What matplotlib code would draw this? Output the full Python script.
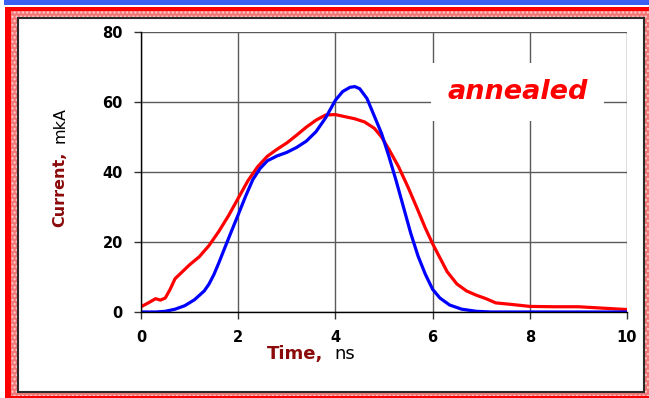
import numpy as np
import matplotlib
matplotlib.use('Agg')
import matplotlib.pyplot as plt
from matplotlib.patches import Rectangle

# Current pulses, time in ns, current in mkA
t_red = [0.0, 0.15, 0.3, 0.4, 0.5, 0.6, 0.7, 0.85, 1.0, 1.2, 1.4, 1.6, 1.8, 2.0,
         2.2, 2.4, 2.6, 2.8, 3.0, 3.2, 3.4, 3.6, 3.8, 4.0, 4.2, 4.4, 4.6, 4.8,
         4.95, 5.1, 5.3, 5.5, 5.7, 5.85, 6.0, 6.15, 6.3, 6.5, 6.7, 6.9, 7.1,
         7.3, 7.6, 8.0, 8.5, 9.0, 9.5, 10.0]
i_red = [1.5, 2.6, 3.8, 3.4, 4.0, 6.5, 9.5, 11.5, 13.5, 15.8, 19.0, 23.0, 27.5, 32.5,
         37.5, 41.5, 44.5, 46.5, 48.3, 50.5, 52.8, 54.8, 56.3, 56.4, 55.8, 55.2, 54.3, 52.5,
         50.0, 46.5, 41.5, 35.5, 29.0, 24.0, 19.5, 15.5, 11.5, 8.0, 6.0, 4.8, 3.8,
         2.6, 2.2, 1.6, 1.5, 1.5, 1.1, 0.7]

t_blue = [0.0, 0.3, 0.5, 0.7, 0.9, 1.1, 1.3, 1.4, 1.5, 1.6, 1.7, 1.85, 2.0, 2.15, 2.3, 2.45,
          2.6, 2.8, 3.0, 3.2, 3.4, 3.6, 3.8, 4.0, 4.15, 4.3, 4.4, 4.5, 4.65, 4.8,
          4.95, 5.1, 5.25, 5.4, 5.55, 5.7, 5.85, 6.0, 6.15, 6.35, 6.6, 6.9, 7.2, 10.0]
i_blue = [0.0, 0.0, 0.2, 0.8, 1.8, 3.5, 6.0, 8.0, 10.7, 14.0, 17.5, 22.7, 27.8, 33.0, 37.8, 41.0,
          43.2, 44.6, 45.6, 47.0, 48.8, 51.5, 55.5, 60.5, 63.0, 64.2, 64.4, 63.8, 61.0, 56.0,
          51.0, 44.5, 37.5, 30.0, 22.5, 16.0, 10.8, 6.5, 4.0, 2.0, 0.8, 0.2, 0.0, 0.0]

x_ticks = [0, 2, 4, 6, 8, 10]
y_ticks = [0, 20, 40, 60, 80]

W, H = 649, 398
def fx(x):
    return x / W
def fy(y):
    return 1 - y / H

plt.rcParams['font.family'] = 'DejaVu Sans'
fig = plt.figure(figsize=(6.49, 3.98), dpi=100)

# slide frame: blue strip, red border, patterned band, inner panel
fig.add_artist(Rectangle((fx(4), fy(5)), fx(649) - fx(4), 5 / H,
                         transform=fig.transFigure, fc='#3b5ff0', ec='none', zorder=-10))
fig.add_artist(Rectangle((fx(5), 0), fx(649) - fx(5), (H - 7) / H,
                         transform=fig.transFigure, fc='#ff0000', ec='none', zorder=-9))
fig.add_artist(Rectangle((fx(11), 2 / H), fx(649) - fx(11), (396 - 11) / H,
                         transform=fig.transFigure, fc='#f27878', ec='#ffd0d0',
                         lw=0, hatch='....', zorder=-8))
fig.add_artist(Rectangle((fx(18), fy(392)), fx(644) - fx(18), (392 - 18) / H,
                         transform=fig.transFigure, fc='white', ec='#2a2a2a',
                         lw=1.5, zorder=-7))

ax = fig.add_axes([fx(141), fy(312), fx(627) - fx(141), (312 - 32) / H])
ax.set_facecolor('none')

ax.plot(t_red, i_red, color='#ff0000', lw=2.3, solid_capstyle='round')
ax.plot(t_blue, i_blue, color='#0000ff', lw=2.3, solid_capstyle='round')

ax.set_xlim(0, 10)
ax.set_ylim(0, 80)
ax.set_xticks(x_ticks)
ax.set_yticks(y_ticks)
ax.grid(True, color='#5a5a5a', lw=1.0)
ax.set_axisbelow(True)
for s in ['top', 'right']:
    ax.spines[s].set_visible(False)
for s in ['left', 'bottom']:
    ax.spines[s].set_color('black')
    ax.spines[s].set_linewidth(1.0)
ax.tick_params(axis='x', direction='out', length=5, width=1, pad=8,
               labelsize=10.5, color='#333333')
ax.tick_params(axis='y', direction='out', length=5, width=1, pad=8,
               labelsize=10.5, color='#333333')
for lab in ax.get_xticklabels() + ax.get_yticklabels():
    lab.set_fontweight('bold')

# axis titles in two colours
fig.text(fx(60), fy(227), 'Current,', rotation=90, ha='center', va='bottom',
         fontsize=11.5, fontweight='bold', color='#8b0a0a')
fig.text(fx(60), fy(143), 'mkA', rotation=90, ha='center', va='bottom',
         fontsize=11.5, color='black')
fig.text(fx(267), fy(359), 'Time,', ha='left', va='baseline',
         fontsize=13, fontweight='bold', color='#8b0a0a')
fig.text(fx(334), fy(359), 'ns', ha='left', va='baseline',
         fontsize=13, color='black')

fig.text(fx(517.5), fy(92), 'annealed', ha='center', va='center',
         fontsize=19.5, fontweight='bold', fontstyle='italic', color='#ff0000',
         bbox=dict(boxstyle='square,pad=0.6', fc='white', ec='none'))

fig.savefig('out.png', dpi=100)
